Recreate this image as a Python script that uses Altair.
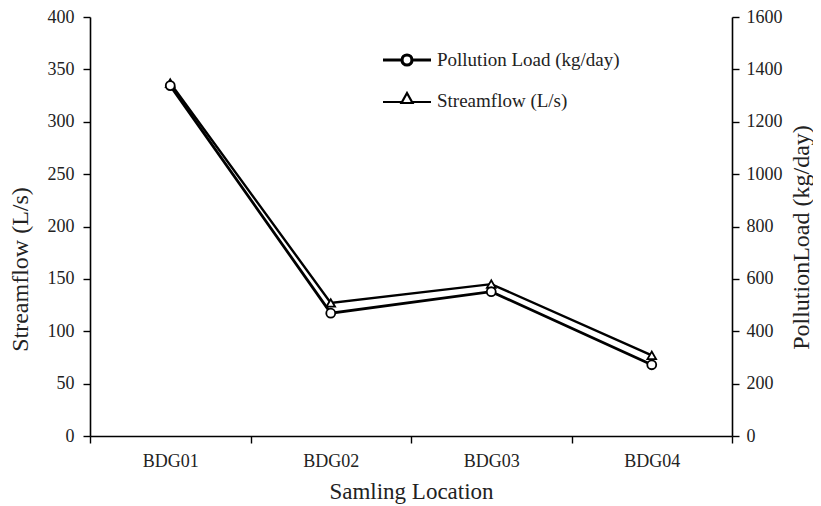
import altair as alt
import pandas as pd

locations = ["BDG01", "BDG02", "BDG03", "BDG04"]
streamflow = [337, 127, 145, 77]
pollution_load = [1338, 469, 551, 272]
series_names = ["Pollution Load (kg/day)", "Streamflow (L/s)"]

df = pd.DataFrame({
    "location": locations,
    "streamflow": streamflow,
    "pollution": pollution_load,
})
legend_df = pd.DataFrame({
    "location": [locations[0], locations[0]],
    "series": series_names,
})

FONT = "Liberation Serif"

circle_path = ("M-2.4,0L-0.5,0M0.5,0L2.4,0"
               "M0.5,0A0.5,0.5 0 1,1 -0.5,0A0.5,0.5 0 1,1 0.5,0Z")
tri_path = ("M-2.4,0.15L-0.55,0.15M0.55,0.15L2.4,0.15"
            "M0,-0.75L0.55,0.25L-0.55,0.25Z")

x_enc = alt.X(
    "location:N",
    sort=locations,
    bandPosition=0.5,
    scale=alt.Scale(type="band", paddingInner=0, paddingOuter=0),
    axis=alt.Axis(title="Samling Location", tickBand="extent", labelAngle=0,
                  tickSize=7, labelPadding=9, titlePadding=10, titleFontSize=23),
)

y_left = alt.Y(
    "streamflow:Q",
    scale=alt.Scale(domain=[0, 400]),
    axis=alt.Axis(title="Streamflow (L/s)", values=list(range(0, 401, 50)),
                  orient="left", tickSize=7, labelPadding=9, titlePadding=15,
                  titleFontSize=24, titleY=252),
)
y_right = alt.Y(
    "pollution:Q",
    scale=alt.Scale(domain=[0, 1600]),
    axis=alt.Axis(title="PollutionLoad (kg/day)", values=list(range(0, 1601, 200)),
                  format="d", orient="right", tickSize=7, labelPadding=7,
                  titlePadding=7, titleAngle=270, titleBaseline="top",
                  titleFontSize=24, titleY=220),
)

base = alt.Chart(df)

line_s = base.mark_line(color="black", strokeWidth=2.4).encode(x=x_enc, y=y_left)
pts_s = base.mark_point(shape="triangle-up", filled=True, fill="white", stroke="black",
                        strokeWidth=1.8, size=75, opacity=1).encode(x=x_enc, y=y_left)

legend_layer = alt.Chart(legend_df).mark_point(color="black", filled=False, opacity=0).encode(
    x=alt.X("location:N", sort=locations, bandPosition=0.5),
    y=alt.value(0),
    shape=alt.Shape("series:N", scale=alt.Scale(domain=series_names,
                                                 range=[circle_path, tri_path]),
                    legend=alt.Legend(title=None, orient="none", legendX=305, legendY=31,
                                      symbolSize=400, labelOffset=18, rowPadding=16,
                                      padding=0, labelFont=FONT, labelFontSize=19,
                                      labelLimit=400,
                                      labelColor="#222222", symbolFillColor="transparent",
                                      symbolStrokeColor="black")),
    strokeWidth=alt.StrokeWidth("series:N", scale=alt.Scale(domain=series_names,
                                                            range=[3.2, 2.2]),
                                legend=None),
)

line_p = base.mark_line(color="black", strokeWidth=2.8).encode(x=x_enc, y=y_right)
pts_p = base.mark_point(shape="circle", filled=True, fill="white", stroke="black",
                        strokeWidth=1.8, size=80, opacity=1).encode(x=x_enc, y=y_right)

left = alt.layer(line_s, legend_layer, pts_s)
right = alt.layer(line_p, pts_p)

chart = alt.layer(left, right).resolve_scale(y="independent").properties(
    width=642, height=419,
    autosize=alt.AutoSizeParams(type="none"),
    padding={"left": 82, "top": 9, "right": 81, "bottom": 68},
).configure_view(stroke=None).configure_axis(
    grid=False,
    domainColor="black", domainWidth=1.6,
    tickColor="black", tickWidth=1.4,
    labelFont=FONT, labelFontSize=18, labelColor="#222222",
    titleFont=FONT, titleFontWeight="normal", titleColor="#222222",
)

chart.save("out.html", embed_options={"renderer": "svg", "actions": False})
